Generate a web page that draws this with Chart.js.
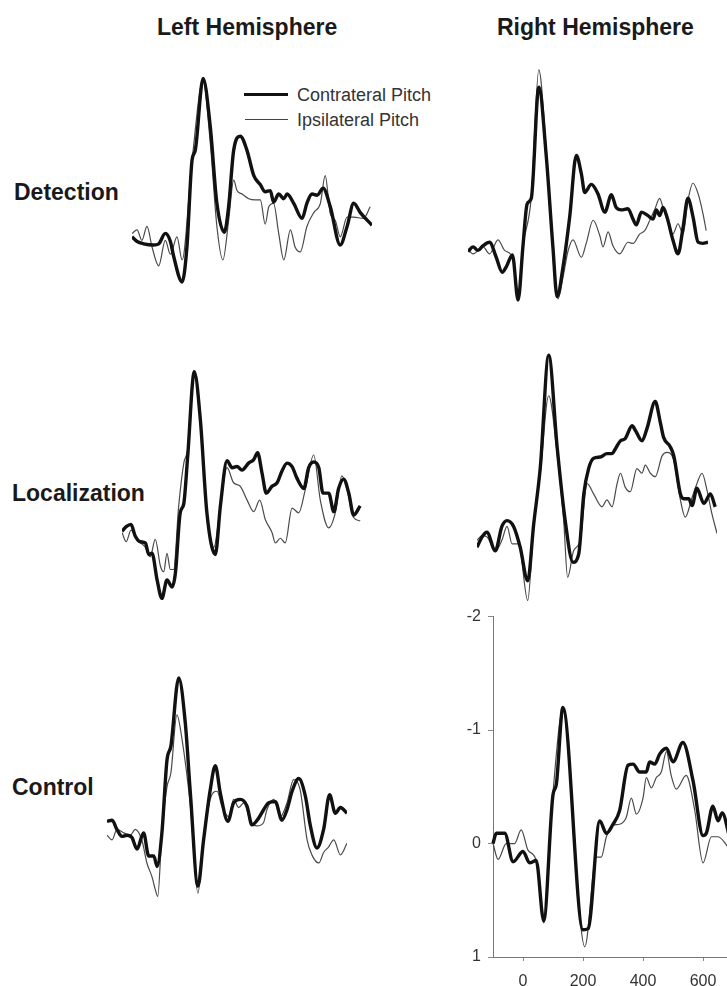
<!DOCTYPE html>
<html>
<head>
<meta charset="utf-8">
<script src="https://cdn.jsdelivr.net/npm/chart.js@4.4.0/dist/chart.umd.min.js"></script>
<style>
    html, body { margin: 0; padding: 0; background: #fff; overflow: hidden; }
    body { width: 727px; height: 986px; position: relative; font-family: Arial, "Liberation Sans", sans-serif; }
    canvas { position: absolute; }
    .lbl { position: absolute; font-weight: bold; font-size: 23px; color: #1a1a1a; white-space: nowrap; line-height: 1; }
    .leg { position: absolute; font-size: 18px; color: #333; white-space: nowrap; line-height: 1; }
    .legline { position: absolute; background: #111; }
</style>
</head>
<body>
<div class="lbl" style="left:157px; top:16px;">Left Hemisphere</div>
<div class="lbl" style="left:497px; top:16px;">Right Hemisphere</div>
<div class="lbl" style="left:14px; top:181px;">Detection</div>
<div class="lbl" style="left:12px; top:482px;">Localization</div>
<div class="lbl" style="left:12px; top:776px;">Control</div>

<div class="legline" style="left:244px; top:93px; width:44px; height:3px; background:#111;"></div>
<div class="leg" style="left:297px; top:86px;">Contrateral Pitch</div>
<div class="legline" style="left:245px; top:119px; width:43px; height:1px; background:#444;"></div>
<div class="leg" style="left:297px; top:111px;">Ipsilateral Pitch</div>

<canvas id="detL" width="240" height="347" style="left:132px; top:9px;"></canvas>
<canvas id="detR" width="240" height="347" style="left:468px; top:19px;"></canvas>
<canvas id="locL" width="240" height="347" style="left:122px; top:300px;"></canvas>
<canvas id="locR" width="240" height="347" style="left:477px; top:309px;"></canvas>
<canvas id="conL" width="240" height="347" style="left:107px; top:590px;"></canvas>
<canvas id="conR" width="300" height="386" style="left:440px; top:600px;"></canvas>

<script>
// ERP waveforms, [time ms, amplitude uV] (negative plotted up)

const detLeftContra = [[-100,-0.03],[-83,0.01],[-61,0.03],[-28,0.04],[-11,0.03],[11,-0.06],[28,0.01],[39,0.14],[67,0.36],[83,0.06],[100,-0.69],[111,-0.78],[137,-1.40],[161,-0.98],[183,-0.32],[208,-0.07],[222,-0.29],[239,-0.78],[261,-0.90],[283,-0.78],[306,-0.56],[328,-0.48],[344,-0.42],[361,-0.43],[372,-0.33],[389,-0.40],[406,-0.36],[417,-0.40],[439,-0.32],[467,-0.19],[483,-0.32],[500,-0.40],[517,-0.39],[537,-0.45],[561,-0.29],[594,0.04],[617,-0.12],[639,-0.32],[661,-0.24],[700,-0.13]];
const detLeftIpsi = [[-100,-0.06],[-83,-0.09],[-67,0],[-50,-0.12],[-33,0.06],[-11,0.22],[11,0],[28,0.12],[50,-0.03],[67,0.17],[100,-0.69],[137,-1.38],[161,-0.84],[183,-0.12],[203,0.17],[222,-0.17],[239,-0.52],[250,-0.43],[267,-0.40],[289,-0.36],[311,-0.35],[328,-0.35],[344,-0.14],[356,-0.29],[372,-0.32],[389,-0.06],[406,0.17],[428,-0.09],[444,0.06],[461,0.10],[483,-0.12],[506,-0.24],[528,-0.32],[544,-0.56],[561,-0.23],[578,-0.17],[594,-0.03],[617,-0.20],[639,-0.20],[672,-0.19],[694,-0.29]];

const detRightContra = [[-100,0.01],[-83,-0.03],[-67,0],[-50,-0.04],[-28,-0.07],[-6,0.06],[14,0.19],[28,0.14],[48,0.04],[67,0.43],[83,-0.03],[97,-0.40],[111,-0.45],[136,-1.41],[161,-0.81],[183,-0.03],[197,0.40],[217,0.14],[239,-0.29],[261,-0.82],[278,-0.66],[289,-0.50],[311,-0.57],[333,-0.49],[356,-0.33],[378,-0.48],[394,-0.37],[411,-0.35],[433,-0.36],[450,-0.27],[461,-0.22],[478,-0.33],[500,-0.30],[517,-0.27],[528,-0.35],[539,-0.30],[550,-0.37],[563,-0.29],[583,-0.09],[600,0.03],[617,-0.20],[633,-0.45],[650,-0.29],[667,-0.07],[683,-0.06],[700,-0.07]];
const detRightIpsi = [[-100,-0.01],[-83,0.03],[-50,-0.03],[-28,0.03],[0,-0.09],[22,0],[50,0.07],[67,0.39],[83,-0.03],[111,-0.46],[136,-1.56],[161,-0.86],[183,-0.03],[200,0.42],[217,0.23],[233,0.01],[250,-0.09],[278,0.06],[294,-0.06],[317,-0.26],[339,-0.13],[350,-0.03],[367,-0.16],[383,-0.04],[406,0.03],[433,-0.07],[450,-0.06],[472,-0.14],[489,-0.17],[506,-0.26],[522,-0.35],[539,-0.45],[550,-0.37],[572,-0.20],[583,-0.14],[600,-0.23],[617,-0.14],[633,-0.43],[650,-0.58],[667,-0.49],[683,-0.32],[694,-0.17]];

const locLeftContra = [[-100,0],[-86,-0.04],[-70,-0.06],[-56,0.04],[-39,0.09],[-22,0.10],[-11,0.20],[0,0.19],[17,0.42],[33,0.58],[50,0.42],[67,0.48],[78,0.36],[94,-0.16],[106,-0.24],[119,-0.65],[141,-1.38],[161,-0.97],[183,-0.16],[211,0.20],[228,-0.22],[250,-0.61],[267,-0.55],[283,-0.56],[300,-0.53],[322,-0.59],[339,-0.62],[352,-0.68],[367,-0.50],[381,-0.33],[400,-0.39],[417,-0.42],[433,-0.52],[450,-0.59],[467,-0.56],[483,-0.46],[506,-0.37],[522,-0.55],[539,-0.60],[556,-0.55],[570,-0.33],[589,-0.33],[606,-0.17],[622,-0.37],[639,-0.45],[656,-0.33],[672,-0.14],[694,-0.22]];
const locLeftIpsi = [[-100,0.01],[-86,0.09],[-70,-0.01],[-50,0.07],[-22,0.14],[-6,0.22],[11,0.07],[28,0.30],[39,0.35],[50,0.19],[61,0.33],[72,0.33],[89,-0.22],[106,-0.59],[119,-0.71],[141,-1.37],[161,-0.94],[183,-0.16],[206,0.14],[228,-0.22],[250,-0.55],[272,-0.42],[294,-0.39],[317,-0.27],[339,-0.17],[359,-0.27],[378,-0.10],[400,0.01],[411,0.10],[428,0.06],[444,0.10],[467,-0.20],[489,-0.16],[511,-0.36],[539,-0.66],[561,-0.27],[589,-0.03],[611,-0.16],[633,-0.48],[650,-0.36],[672,-0.12],[694,-0.09]];

const locRightContra = [[-100,0.06],[-83,-0.03],[-67,-0.07],[-39,0.09],[-17,-0.12],[0,-0.17],[22,-0.12],[44,0.06],[69,0.35],[89,-0.14],[111,-0.63],[139,-1.60],[167,-0.81],[194,-0.17],[220,0.19],[239,0.12],[256,-0.40],[272,-0.62],[289,-0.71],[311,-0.72],[333,-0.75],[350,-0.75],[361,-0.79],[378,-0.86],[394,-0.88],[417,-0.99],[428,-0.95],[450,-0.86],[467,-0.97],[494,-1.20],[511,-1.02],[522,-0.89],[544,-0.81],[556,-0.73],[578,-0.40],[589,-0.36],[606,-0.36],[617,-0.30],[633,-0.45],[656,-0.32],[678,-0.40],[694,-0.29]];
const locRightIpsi = [[-100,0],[-83,-0.04],[-67,-0.03],[-39,0.09],[-17,0],[0,-0.12],[17,0.03],[39,0.03],[69,0.52],[89,-0.12],[111,-0.58],[139,-1.25],[167,-0.75],[189,-0.17],[202,0.32],[222,0.09],[244,0],[267,-0.49],[289,-0.40],[317,-0.29],[333,-0.35],[350,-0.29],[367,-0.49],[378,-0.58],[394,-0.46],[411,-0.42],[433,-0.62],[450,-0.58],[461,-0.65],[478,-0.58],[494,-0.55],[517,-0.73],[533,-0.76],[556,-0.69],[578,-0.35],[594,-0.20],[617,-0.37],[633,-0.49],[650,-0.58],[667,-0.43],[683,-0.23],[700,-0.06]];

const conLeftContra = [[-100,0],[-83,-0.01],[-67,0.07],[-50,0.13],[-33,0.12],[-17,0.14],[0,0.24],[22,0.10],[39,0.30],[56,0.30],[67,0.39],[83,0.10],[100,-0.53],[113,-0.65],[139,-1.24],[161,-0.85],[178,-0.24],[203,0.56],[222,0.16],[244,-0.27],[261,-0.48],[278,-0.24],[303,0],[322,-0.16],[344,-0.19],[367,-0.13],[383,0.03],[406,-0.03],[422,-0.10],[439,-0.16],[461,-0.17],[483,-0.01],[500,-0.10],[517,-0.26],[539,-0.37],[561,-0.22],[578,0.04],[600,0.23],[622,0.07],[642,-0.23],[661,-0.07],[678,-0.12],[700,-0.07]];
const conLeftIpsi = [[-100,0.12],[-83,0.16],[-67,0.07],[-44,0.10],[-22,0.12],[-6,0.07],[17,0.17],[33,0.36],[50,0.48],[61,0.59],[69,0.65],[83,0.10],[100,-0.30],[113,-0.42],[133,-0.92],[150,-0.71],[178,-0.13],[203,0.62],[222,0.16],[244,-0.19],[267,-0.26],[283,-0.13],[306,-0.04],[322,-0.19],[339,-0.12],[356,-0.16],[378,0],[400,0.04],[422,0.01],[433,-0.10],[456,-0.19],[478,-0.04],[500,-0.16],[522,-0.36],[544,-0.27],[567,0.16],[583,0.29],[606,0.36],[622,0.27],[639,0.22],[656,0.16],[678,0.29],[700,0.19]];

const conRightContra = [[-100,0],[-89,-0.09],[-61,-0.09],[-33,0.16],[0,0.07],[22,0.17],[44,0.15],[69,0.68],[100,-0.43],[111,-0.52],[133,-1.20],[200,0.76],[217,0.75],[256,-0.20],[278,-0.09],[300,-0.17],[322,-0.29],[350,-0.69],[367,-0.70],[389,-0.63],[411,-0.63],[422,-0.72],[439,-0.70],[456,-0.79],[478,-0.84],[500,-0.72],[533,-0.89],[567,-0.55],[600,-0.07],[611,-0.09],[633,-0.33],[650,-0.20],[664,-0.27],[689,-0.05]];
const conRightIpsi = [[-100,0],[-83,0.14],[-56,0],[-28,0],[-6,-0.12],[17,0.06],[44,0.15],[69,0.70],[100,-0.45],[133,-1.18],[206,0.91],[244,0.12],[261,0.12],[278,-0.06],[300,-0.16],[322,-0.17],[344,-0.23],[361,-0.40],[378,-0.26],[400,-0.40],[411,-0.58],[428,-0.49],[444,-0.58],[461,-0.63],[478,-0.81],[494,-0.60],[511,-0.48],[544,-0.60],[572,-0.30],[600,0.17],[628,-0.06],[650,-0.06],[689,0.05]];

const xTicks = [0, 200, 400, 600];
const yTicks = [-2, -1, 0, 1];

function toPoints(arr) {
    return arr.map((p) => ({ x: p[0], y: p[1] }));
}

function makeDatasets(contra, ipsi) {
    return [
        {
            label: 'Contrateral Pitch',
            data: toPoints(contra),
            borderColor: '#111',
            borderWidth: 3.4,
            pointRadius: 0,
            cubicInterpolationMode: 'monotone',
            clip: false,
        },
        {
            label: 'Ipsilateral Pitch',
            data: toPoints(ipsi),
            borderColor: '#4a4a4a',
            borderWidth: 1.2,
            pointRadius: 0,
            cubicInterpolationMode: 'monotone',
            clip: false,
        },
    ];
}

function erpChart(id, contra, ipsi) {
    const ctx = document.getElementById(id).getContext("2d");
    return new Chart(ctx, {
        type: "line",
        data: { datasets: makeDatasets(contra, ipsi) },
        options: {
            responsive: false,
            animation: false,
            devicePixelRatio: 1,
            layout: { padding: 0 },
            plugins: { legend: { display: false }, tooltip: { enabled: false } },
            scales: {
                x: { type: 'linear', min: -100, max: 700, display: false },
                y: { min: -2, max: 1, reverse: true, display: false },
            },
        }
    });
}

erpChart("detL", detLeftContra, detLeftIpsi);
erpChart("detR", detRightContra, detRightIpsi);
erpChart("locL", locLeftContra, locLeftIpsi);
erpChart("locR", locRightContra, locRightIpsi);
erpChart("conL", conLeftContra, conLeftIpsi);

// bottom right panel carries the axes
const conR = document.getElementById("conR").getContext("2d");
const myChartConR = new Chart(conR, {
    type: "line",
    data: { datasets: makeDatasets(conRightContra, conRightIpsi) },
    options: {
        responsive: false,
        animation: false,
        devicePixelRatio: 1,
        layout: { padding: { top: 10, right: 7, left: 0, bottom: 0 } },
        plugins: { legend: { display: false }, tooltip: { enabled: false } },
        scales: {
            x: {
                type: 'linear',
                min: -100,
                max: 700,
                afterBuildTicks: (axis) => { axis.ticks = xTicks.map((v) => ({ value: v })); },
                afterFit: (axis) => { axis.height = 29; },
                grid: { drawOnChartArea: false, drawTicks: true, tickLength: 4, color: '#888' },
                border: { display: true, color: '#777', width: 1 },
                ticks: { color: '#333', font: { family: 'Arial', size: 16 }, padding: 11, maxRotation: 0 },
            },
            y: {
                min: -2,
                max: 1,
                reverse: true,
                afterBuildTicks: (axis) => { axis.ticks = yTicks.map((v) => ({ value: v })); },
                afterFit: (axis) => { axis.width = 53; },
                grid: { drawOnChartArea: false, drawTicks: true, tickLength: 5, color: '#888' },
                border: { display: true, color: '#777', width: 1 },
                ticks: { color: '#333', font: { family: 'Arial', size: 16 }, padding: 7 },
            },
        },
    }
});
</script>
</body>
</html>
